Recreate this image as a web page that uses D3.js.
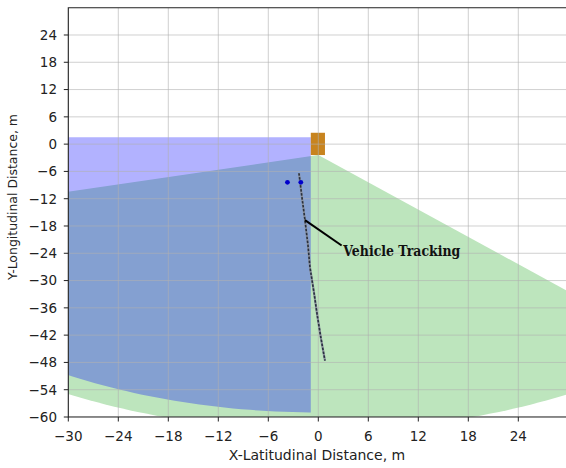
<!DOCTYPE html>
<html>
<head>
<meta charset="utf-8">
<script src="https://cdn.jsdelivr.net/npm/d3@7"></script>
<style>
    body { margin: 0; background: #fff; }
    svg { display: block; font-family: "DejaVu Sans", sans-serif; }
</style>
</head>
<body>
<div id="chart"></div>
<script>
// ticks
const xTicks = [-30, -24, -18, -12, -6, 0, 6, 12, 18, 24];
const yTicks = [-60, -54, -48, -42, -36, -30, -24, -18, -12, -6, 0, 6, 12, 18, 24];

// tracked vehicle path (m)
const trackX = [-2.32, -1.96, -1.6, -1.24, -1.0, -0.52, -0.12, 0.32, 0.8];
const trackY = [-6.4, -11.7, -16.7, -22.2, -27.1, -32.6, -37.7, -42.7, -47.6];

// detected targets
const targetX = [-3.7, -2.1];
const targetY = [-8.4, -8.4];

// ego vehicle outline
const egoX = [-0.9, 0.8];
const egoY = [-2.4, 2.5];

// rear sensor field of view: apex, angles (deg), range
const fovApex = [0, -2.4];
const fovAngles = [-165, -45];
const fovRange = 60.5;

// blind zone: top edge, right edge, range
const zoneTop = 1.5;
const zoneRight = -0.9;
const zoneRange = 59;

// annotation
const noteText = 'Vehicle Tracking';
const notePoint = [-1.6, -16.7];
const noteArm = [2.8, -22.3];
const notePos = [3.0, -24.6];

document.addEventListener('DOMContentLoaded', () => {
    const width = 566;
    const height = 468;

    const x = d3.scaleLinear().domain([-30, 30]).range([68.3, 568.3]);
    const y = d3.scaleLinear().domain([-60, 30]).range([417, 7.7]);

    const svg = d3.select('#chart')
        .append('svg')
        .attr('width', width)
        .attr('height', height);

    svg.append('clipPath')
        .attr('id', 'plot')
        .append('rect')
        .attr('x', x(-30))
        .attr('y', y(30))
        .attr('width', x(30) - x(-30))
        .attr('height', y(-60) - y(30));

    const plot = svg.append('g').attr('clip-path', 'url(#plot)');
    const line = d3.line().x(d => x(d[0])).y(d => y(d[1]));
    const rad = Math.PI / 180;

    // sensor fan
    const fan = [fovApex].concat(d3.range(fovAngles[0], fovAngles[1] + 0.5, 1).map(a => [
        fovApex[0] + fovRange * Math.cos(a * rad),
        fovApex[1] + fovRange * Math.sin(a * rad)
    ]));
    plot.append('path')
        .attr('d', line(fan) + 'Z')
        .attr('fill', '#bde5bd');

    // blind zone, bounded by arc
    const endAngle = 270 - Math.asin(-zoneRight / zoneRange) / rad;
    const zone = [[zoneRight, zoneTop], [-zoneRange - 5, zoneTop], [-zoneRange - 5, 0]]
        .concat(d3.range(180, endAngle, 1).concat([endAngle]).map(a => [
            zoneRange * Math.cos(a * rad),
            zoneRange * Math.sin(a * rad)
        ]));
    plot.append('path')
        .attr('d', line(zone) + 'Z')
        .attr('fill', 'rgb(0,0,255)')
        .attr('fill-opacity', 0.3);

    // ego vehicle
    plot.append('rect')
        .attr('x', x(egoX[0]))
        .attr('y', y(egoY[1]))
        .attr('width', x(egoX[1]) - x(egoX[0]))
        .attr('height', y(egoY[0]) - y(egoY[1]))
        .attr('fill', '#c8841f');

    // grid
    plot.selectAll('.gx')
        .data(xTicks)
        .enter()
        .append('line')
        .attr('x1', d => x(d)).attr('x2', d => x(d))
        .attr('y1', y(-60)).attr('y2', y(30))
        .attr('stroke', '#b0b0b0')
        .attr('stroke-opacity', 0.6);
    plot.selectAll('.gy')
        .data(yTicks)
        .enter()
        .append('line')
        .attr('y1', d => y(d)).attr('y2', d => y(d))
        .attr('x1', x(-30)).attr('x2', x(30))
        .attr('stroke', '#b0b0b0')
        .attr('stroke-opacity', 0.6);

    // track
    const track = trackX.map((v, i) => [v, trackY[i]]);
    plot.append('path')
        .attr('d', line(track))
        .attr('fill', 'none')
        .attr('stroke', '#8a909c')
        .attr('stroke-width', 2.2);
    plot.append('path')
        .attr('d', line(track))
        .attr('fill', 'none')
        .attr('stroke', '#28303f')
        .attr('stroke-width', 1.6)
        .attr('stroke-dasharray', '2.5,1.5');

    // targets
    plot.selectAll('.target')
        .data(targetX)
        .enter()
        .append('circle')
        .attr('cx', d => x(d))
        .attr('cy', (d, i) => y(targetY[i]))
        .attr('r', 2.4)
        .attr('fill', '#0000cc');

    // annotation
    plot.append('line')
        .attr('x1', x(notePoint[0])).attr('y1', y(notePoint[1]))
        .attr('x2', x(noteArm[0])).attr('y2', y(noteArm[1]))
        .attr('stroke', '#000')
        .attr('stroke-width', 2);
    plot.append('text')
        .attr('x', x(notePos[0]))
        .attr('y', y(notePos[1]))
        .attr('font-family', '"DejaVu Serif", serif')
        .attr('font-weight', 'bold')
        .attr('font-size', 15.5)
        .attr('textLength', 117)
        .attr('lengthAdjust', 'spacingAndGlyphs')
        .attr('fill', '#111')
        .text(noteText);

    // frame
    const frame = '#222';
    svg.append('path')
        .attr('d', `M${x(30)},${y(30)}H${x(-30)}V${y(-60)}H${x(30)}`)
        .attr('fill', 'none')
        .attr('stroke', frame)
        .attr('stroke-width', 1.1);

    // x axis ticks
    const xa = svg.append('g');
    xa.selectAll('line')
        .data(xTicks)
        .enter()
        .append('line')
        .attr('x1', d => x(d)).attr('x2', d => x(d))
        .attr('y1', y(-60)).attr('y2', y(-60) + 4.5)
        .attr('stroke', frame);
    xa.selectAll('text')
        .data(xTicks)
        .enter()
        .append('text')
        .attr('x', d => x(d))
        .attr('y', 440.5)
        .attr('text-anchor', 'middle')
        .attr('font-size', 13.5)
        .attr('fill', '#222')
        .text(d => d3.format('')(d).replace('-', '\u2212'));

    // y axis ticks
    const ya = svg.append('g');
    ya.selectAll('line')
        .data(yTicks)
        .enter()
        .append('line')
        .attr('y1', d => y(d)).attr('y2', d => y(d))
        .attr('x1', x(-30) - 4.5).attr('x2', x(-30))
        .attr('stroke', frame);
    ya.selectAll('text')
        .data(yTicks)
        .enter()
        .append('text')
        .attr('x', 57)
        .attr('y', d => y(d))
        .attr('dy', '0.36em')
        .attr('text-anchor', 'end')
        .attr('font-size', 13.5)
        .attr('fill', '#222')
        .text(d => d3.format('')(d).replace('-', '\u2212'));

    // axis labels
    svg.append('text')
        .attr('x', 317)
        .attr('y', 460)
        .attr('text-anchor', 'middle')
        .attr('font-size', 14)
        .attr('fill', '#222')
        .text('X-Latitudinal Distance, m');

    svg.append('text')
        .attr('transform', 'translate(17,197) rotate(-90)')
        .attr('text-anchor', 'middle')
        .attr('font-size', 13)
        .attr('textLength', 166)
        .attr('lengthAdjust', 'spacingAndGlyphs')
        .attr('fill', '#222')
        .text('Y-Longitudinal Distance, m');
});
</script>
</body>
</html>
